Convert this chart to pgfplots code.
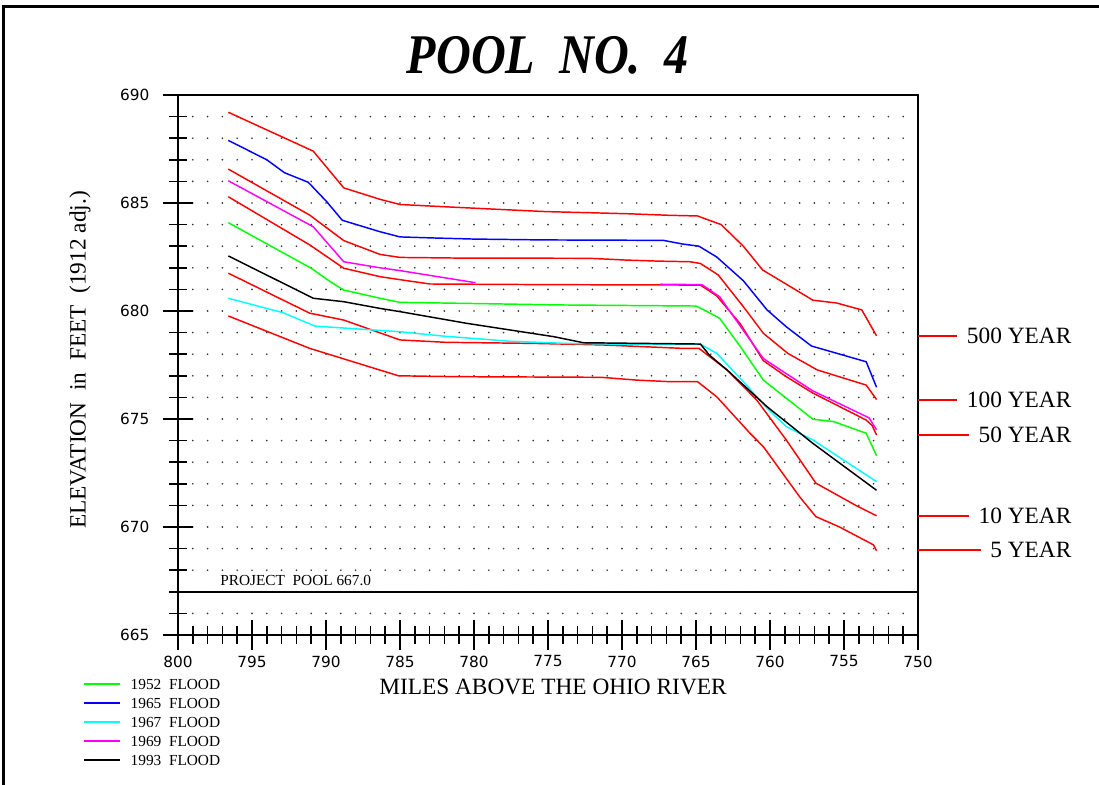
\documentclass[border=0pt]{standalone}
\usepackage{fontspec}
\setmainfont{Liberation Serif}
\newfontfamily\tickfont{DejaVu Sans}
\usepackage{pgfplots}
\pgfplotsset{compat=1.18}
\definecolor{fred}{RGB}{255,0,0}
\definecolor{fblue}{RGB}{0,0,255}
\definecolor{fcyan}{RGB}{0,255,255}
\definecolor{fmag}{RGB}{255,0,255}
\definecolor{fgreen}{RGB}{0,255,0}
\begin{document}
\begin{tikzpicture}
\begin{axis}[
  scale only axis,
  width=555pt, height=405pt,
  xmin=750, xmax=800, ymin=665, ymax=690,
  x dir=reverse,
  clip=false,
  axis line style={line width=1.3pt},
  xtick={750,755,...,800},
  ytick={665,670,...,690},
  minor x tick num=4,
  minor y tick num=4,
  tick align=center,
  major tick length=22pt,
  minor tick length=13pt,
  every tick/.style={black, line width=1.1pt},
  xtick pos=left, ytick pos=left,
  xmajorgrids, xminorgrids,
  grid style={black!80, line width=1.4pt, line cap=round, dash pattern=on 0pt off 16.2pt, dash phase=0pt},
  major grid style={black!80, line width=1.4pt, line cap=round, dash pattern=on 0pt off 16.2pt, dash phase=0pt},
  minor grid style={black!80, line width=1.4pt, line cap=round, dash pattern=on 0pt off 16.2pt, dash phase=0pt},
  /pgf/number format/assume math mode=true,
  /pgf/number format/1000 sep={},
  xticklabel style={font=\tickfont\fontsize{11.5}{13}\selectfont, yshift=-1pt},
  yticklabel style={font=\tickfont\fontsize{11.5}{13}\selectfont, xshift=-7pt},
  unbounded coords=jump,
  every axis plot/.append style={line width=1.1pt},
  legend style={at={(axis cs:806.42,663.0)}, anchor=north west, draw=none, fill=none, inner sep=0pt,
    font=\fontsize{11.5}{13}\selectfont, row sep=0pt,
    nodes={inner sep=0pt, text height=8.5pt, text depth=5.75pt},
    /tikz/every odd column/.append style={column sep=7.5pt}},
  legend cell align=left,
  legend image code/.code={\draw[#1, line width=1.1pt] (0pt,3pt) -- (27pt,3pt);},
]
% 500 year
\addplot[fred, forget plot] coordinates {
(796.6,689.2) (790.86,687.4) (788.8,685.7) (786.35,685.17) (785.0,684.93) (781.2,684.8)
(778.2,684.7) (775.1,684.6) (772.2,684.55) (769.5,684.5) (766.8,684.43) (764.9,684.4)
(763.3,684.0) (761.8,683.0) (760.5,681.9) (757.1,680.5) (755.5,680.37) (753.8,680.05) (752.8,678.85)};
% 100 year
\addplot[fred, forget plot] coordinates {
(796.6,686.57) (791.1,684.44) (788.8,683.26) (786.35,682.62) (785.0,682.48) (781,682.45)
(772.2,682.44) (769.8,682.36) (767.6,682.31) (765.4,682.28) (764.7,682.2) (763.5,681.67)
(761.8,680.2) (760.45,678.97) (758.8,678.04) (756.8,677.27) (753.5,676.57) (752.8,675.9)};
% 50 year
\addplot[fred, forget plot] coordinates {
(796.6,685.29) (791.1,683.06) (788.8,681.98) (786.35,681.59) (785.0,681.45) (782.97,681.25)
(775,681.22) (764.7,681.2) (763.6,680.7) (762.0,679.4) (760.45,677.7) (758.9,676.96)
(757.1,676.2) (753.5,674.95) (753.1,674.7) (752.8,674.26)};
% 10 year
\addplot[fred, forget plot] coordinates {
(796.6,681.75) (791.1,679.9) (788.8,679.58) (785.0,678.66) (781.9,678.55) (776.0,678.5)
(771.4,678.43) (768.6,678.35) (765.9,678.27) (764.8,678.27) (762.9,677.27) (760.9,675.88)
(758.9,674.03) (756.9,672.03) (754.2,671.0) (752.8,670.52)};
% 5 year
\addplot[fred, forget plot] coordinates {
(796.6,679.77) (791.1,678.27) (785.1,677.0) (781.3,676.96) (771.4,676.93) (769.0,676.8)
(766.8,676.73) (764.9,676.73) (763.6,676.03) (761.35,674.34) (760.45,673.72) (758.0,671.4)
(756.9,670.48) (755.3,670.0) (753.0,669.17) (752.8,668.9)};
% project pool
\addplot[black, line width=1.3pt, forget plot] coordinates {(800,667) (750,667)};
% 1952
\addplot[fgreen] coordinates {
(796.6,684.09) (791.0,681.98) (789.8,681.4) (788.8,680.97) (786.35,680.59) (785.0,680.4)
(780.3,680.35) (774.2,680.28) (765.0,680.23) (764.1,679.92) (763.4,679.66) (762.0,678.35)
(760.45,676.8) (757.1,674.99) (755.7,674.88) (753.5,674.34) (752.8,673.3)};
\addlegendentry{1952\ \ FLOOD}
% 1965
\addplot[fblue] coordinates {
(796.6,687.9) (794.0,687.0) (792.8,686.4) (791.2,685.96) (789.95,685.06) (788.9,684.2)
(786.35,683.67) (785.0,683.43) (782.7,683.38) (780,683.33) (775.3,683.29) (767.2,683.27)
(765.9,683.1) (764.8,683.0) (763.6,682.5) (761.8,681.4) (760.2,680.05) (758.9,679.27)
(757.2,678.38) (753.5,677.65) (752.8,676.47)};
\addlegendentry{1965\ \ FLOOD}
% 1967
\addplot[fcyan] coordinates {
(796.6,680.59) (792.9,679.92) (790.74,679.3) (785.0,679.04) (782.1,678.84) (777.6,678.6)
(773.75,678.5) (769.7,678.46) (764.7,678.46) (763.6,678.04) (761.8,676.73) (760.2,675.5)
(758.9,674.65) (757.1,674.03) (752.8,672.1)};
\addlegendentry{1967\ \ FLOOD}
% 1969
\addplot[fmag] coordinates {
(796.6,686.03) (790.86,683.9) (788.8,682.28) (786.35,682.0) (785.0,681.87) (779.9,681.31)
(779.5,nan)
(767.4,681.24) (764.6,681.22) (763.4,680.66) (761.8,679.1) (760.45,677.8) (758.9,677.1)
(757.1,676.3) (753.3,675.05) (752.8,674.5)};
\addlegendentry{1969\ \ FLOOD}
% 1993
\addplot[black] coordinates {
(796.6,682.55) (790.86,680.59) (788.8,680.43) (786.35,680.12) (785.0,679.97) (780.5,679.43)
(774.6,678.81) (772.6,678.53) (764.7,678.47) (764.1,677.96) (762.9,677.27) (760.2,675.57)
(757.1,673.87) (752.8,671.7)};
\addlegendentry{1993\ \ FLOOD}

% annotations
\node[anchor=south west, inner sep=0pt, font=\fontsize{11.5}{13}\selectfont] at (axis cs:797.16,667.25) {PROJECT\ \ POOL\ 667.0};
\node[font=\fontsize{17.5}{20}\selectfont] at (axis cs:774.66,662.59) {MILES ABOVE THE OHIO RIVER};
\node[rotate=90, font=\fontsize{17.5}{20}\selectfont] at (axis cs:806.62,677.73) {ELEVATION\ \ in\ \ FEET\ \ (1912 adj.)};
\node[font=\bfseries\itshape\fontsize{42}{46}\selectfont, xscale=0.86] at (axis cs:775.0,691.85) {POOL\ \ NO.\ \ 4};

\node[anchor=east, inner sep=7pt, font=\fontsize{17.5}{20}\selectfont] (l1) at (axis cs:738.99,678.84) {500 YEAR};
\draw[fred, line width=1.1pt] (axis cs:750,678.84) -- (l1.west);
\node[anchor=east, inner sep=7pt, font=\fontsize{17.5}{20}\selectfont] (l2) at (axis cs:738.99,675.88) {100 YEAR};
\draw[fred, line width=1.1pt] (axis cs:750,675.88) -- (l2.west);
\node[anchor=east, inner sep=7pt, font=\fontsize{17.5}{20}\selectfont] (l3) at (axis cs:738.99,674.26) {50 YEAR};
\draw[fred, line width=1.1pt] (axis cs:750,674.26) -- (l3.west);
\node[anchor=east, inner sep=7pt, font=\fontsize{17.5}{20}\selectfont] (l4) at (axis cs:738.99,670.52) {10 YEAR};
\draw[fred, line width=1.1pt] (axis cs:750,670.52) -- (l4.west);
\node[anchor=east, inner sep=7pt, font=\fontsize{17.5}{20}\selectfont] (l5) at (axis cs:738.99,668.94) {5 YEAR};
\draw[fred, line width=1.1pt] (axis cs:750,668.94) -- (l5.west);

\draw[black, line width=2.25pt] (axis cs:811.78,658.056) -- (axis cs:811.78,694.11) -- (axis cs:737.77,694.11);
\coordinate (BL) at (axis cs:812.027,658.056);
\coordinate (TR) at (axis cs:737.77,694.398);
\end{axis}
\pgfresetboundingbox
\useasboundingbox (BL) rectangle (TR);
\end{tikzpicture}
\end{document}
